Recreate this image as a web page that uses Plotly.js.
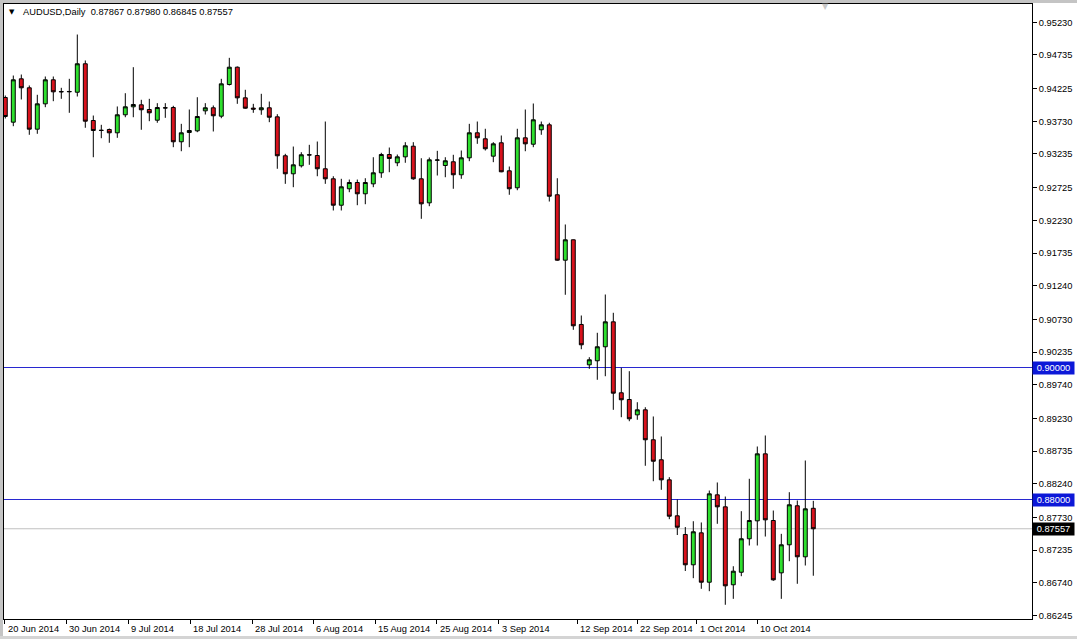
<!DOCTYPE html>
<html><head><meta charset="utf-8">
<script src="https://cdn.plot.ly/plotly-3.0.1.min.js"></script>
<style>html,body{margin:0;padding:0;background:#fff;}#chart{width:1077px;height:639px;}</style>
</head><body><div id="chart"></div>
<script>
const symbolText = 'AUDUSD,Daily';
const open = [0.94091,0.93717,0.94374,0.94238,0.93611,0.93995,0.94359,0.94182,0.94177,0.94171,
0.94602,0.93742,0.93595,0.93606,0.93556,0.93829,0.93950,0.93980,0.93909,0.93747,
0.93935,0.93939,0.93420,0.93561,0.93586,0.93889,0.93935,0.93808,0.94288,0.94550,
0.94086,0.93930,0.93905,0.93935,0.93798,0.93208,0.92935,0.93056,0.93223,0.93212,
0.93011,0.92859,0.92459,0.92708,0.92803,0.92632,0.92783,0.92950,0.93227,0.93102,
0.93192,0.93353,0.92859,0.92495,0.93141,0.93061,0.93117,0.92920,0.93177,0.93556,
0.93465,0.93202,0.93405,0.92980,0.92723,0.93480,0.93383,0.93602,0.93677,0.92617,
0.91626,0.91935,0.90652,0.90041,0.90102,0.90314,0.90692,0.89617,0.89515,0.89283,
0.89359,0.88905,0.88602,0.88298,0.87753,0.87470,0.87011,0.87495,0.86747,0.88071,
0.87889,0.86708,0.86898,0.87405,0.87677,0.88692,0.87682,0.86889,0.87314,0.87905,
0.87132,0.87867];
const high = [0.94121,0.94424,0.94439,0.94273,0.94132,0.94409,0.94409,0.94238,0.94374,0.95045,
0.94652,0.93818,0.93677,0.93621,0.93955,0.94156,0.94550,0.94056,0.94071,0.94005,
0.94005,0.93965,0.93692,0.93909,0.94095,0.94005,0.93970,0.94374,0.94692,0.94561,
0.94208,0.93995,0.94147,0.94030,0.93838,0.93238,0.93348,0.93262,0.93374,0.93424,
0.93727,0.92898,0.92859,0.92848,0.92848,0.92868,0.93186,0.93253,0.93333,0.93227,
0.93414,0.93414,0.93171,0.93182,0.93283,0.93186,0.93223,0.93288,0.93692,0.93727,
0.93617,0.93414,0.93515,0.93045,0.93617,0.93909,0.94000,0.93727,0.93708,0.92868,
0.92167,0.91939,0.90788,0.90156,0.90526,0.91106,0.90829,0.89995,0.89944,0.89474,
0.89398,0.89258,0.88955,0.88338,0.88000,0.87583,0.87671,0.87652,0.88136,0.88258,
0.88045,0.86989,0.87823,0.88314,0.88803,0.88970,0.87833,0.87480,0.88111,0.87985,
0.88591,0.87980];
const low = [0.93773,0.93656,0.94061,0.93526,0.93541,0.93944,0.94035,0.94071,0.93859,0.94106,
0.93632,0.93186,0.93474,0.93405,0.93480,0.93792,0.93792,0.93602,0.93732,0.93708,
0.93783,0.93338,0.93277,0.93338,0.93565,0.93833,0.93576,0.93777,0.94273,0.93995,
0.93920,0.93859,0.93829,0.93717,0.93011,0.92783,0.92732,0.93030,0.93071,0.92898,
0.92783,0.92379,0.92379,0.92656,0.92459,0.92474,0.92732,0.92874,0.92959,0.93050,
0.93102,0.92844,0.92253,0.92444,0.92909,0.92883,0.92708,0.92859,0.93126,0.93389,
0.93288,0.93111,0.92959,0.92617,0.92686,0.93277,0.93338,0.93526,0.92515,0.91617,
0.91102,0.90571,0.90277,0.89980,0.89814,0.89868,0.89359,0.89247,0.89186,0.89208,
0.88511,0.88277,0.88147,0.87702,0.87462,0.86917,0.86808,0.86647,0.86611,0.87632,
0.86405,0.86495,0.86838,0.87303,0.87303,0.87439,0.86768,0.86495,0.87065,0.86723,
0.87000,0.86845];
const close = [0.93803,0.94359,0.94238,0.93611,0.93995,0.94359,0.94177,0.94177,0.94182,0.94602,
0.93732,0.93591,0.93592,0.93556,0.93829,0.93950,0.93985,0.93905,0.93859,0.93939,
0.93933,0.93420,0.93556,0.93591,0.93803,0.93935,0.93814,0.94298,0.94550,0.94086,
0.93929,0.93915,0.93935,0.93792,0.93208,0.92935,0.93071,0.93223,0.93220,0.93011,
0.92859,0.92459,0.92738,0.92803,0.92632,0.92803,0.92950,0.93227,0.93167,0.93192,
0.93359,0.92859,0.92480,0.93147,0.93144,0.93132,0.92920,0.93177,0.93556,0.93480,
0.93314,0.93389,0.92965,0.92708,0.93480,0.93389,0.93753,0.93677,0.92595,0.91626,
0.91935,0.90632,0.90344,0.90117,0.90314,0.90692,0.89611,0.89511,0.89223,0.89359,
0.88905,0.88580,0.88298,0.87747,0.87580,0.87011,0.87511,0.86747,0.88086,0.87889,
0.86692,0.86914,0.87405,0.87682,0.88692,0.87692,0.86783,0.87314,0.87920,0.87132,
0.87859,0.87557];
const tickLabels = ['20 Jun 2014','30 Jun 2014','9 Jul 2014','18 Jul 2014','28 Jul 2014','6 Aug 2014',
  '15 Aug 2014','25 Aug 2014','3 Sep 2014','12 Sep 2014','22 Sep 2014','1 Oct 2014','10 Oct 2014'];
const tickBars = [-0.07,7.62,15.37,23.09,30.84,38.5,46.25,53.96,61.71,71.5,79,86.42,94];
const priceTicks = [0.95230,0.94735,0.94225,0.93730,0.93235,0.92725,0.92230,0.91735,0.91240,0.90730,
  0.90235,0.89740,0.89230,0.88735,0.88240,0.87730,0.87235,0.86740,0.86245];
const levels = [0.90000, 0.88000];

const bars = open.map((_, i) => i);
const last = close.length - 1;
const lastPrice = close[last];

// geometry (pixels)
const W = 1077, H = 639, L = 4, R = 45, T = 4, B = 20;
const plotW = W - L - R, plotH = H - T - B;
const barPx = 8, firstBarPx = 5.3;
const xMin = -(firstBarPx - L) / barPx;
const xMax = xMin + plotW / barPx;
const px2x = px => (px - L) / plotW;
const px2y = py => (H - B - py) / plotH;

const FONT = 'Liberation Sans, Arial, sans-serif';
const fmt = v => v.toFixed(5);
const NB = '\u00a0';

const annotations = [
  {xref:'paper', yref:'paper', x:px2x(21), y:px2y(12.5), xanchor:'left', yanchor:'middle', showarrow:false,
   text: symbolText + NB + NB + [open[last], high[last], low[last], close[last]].map(fmt).join(NB),
   font:{family:FONT, size:9.3, color:'#000'}},
  {xref:'paper', yref:'paper', x:px2x(11.5), y:px2y(12.5), xanchor:'center', yanchor:'middle', showarrow:false,
   text:'▼', font:{family:'DejaVu Sans', size:7, color:'#000'}},
  {xref:'paper', yref:'paper', x:px2x(825), y:px2y(6), xanchor:'center', yanchor:'middle', showarrow:false,
   text:'▼', font:{family:'DejaVu Sans', size:8, color:'#c8c8c8'}}
];
// date labels, left-aligned just right of each tick mark
tickBars.forEach((b, i) => annotations.push({
  xref:'x', yref:'paper', x:b, y:px2y(628.7), xanchor:'left', yanchor:'middle', xshift:1, showarrow:false,
  text: tickLabels[i], font:{family:FONT, size:9.3, color:'#000'}
}));
levels.forEach(v => annotations.push({
  xref:'paper', yref:'y', x:1, y:v, xanchor:'left', yanchor:'middle', xshift:0, showarrow:false,
  text: fmt(v), bgcolor:'#0c18d8', borderpad:1, width:39, height:10,
  font:{family:FONT, size:9.3, color:'#fff'}
}));
annotations.push({
  xref:'paper', yref:'y', x:1, y:lastPrice, xanchor:'left', yanchor:'middle', xshift:0, showarrow:false,
  text: fmt(lastPrice), bgcolor:'#000', borderpad:1, width:39, height:10,
  font:{family:FONT, size:9.3, color:'#fff'}
});

const shapes = [];
levels.forEach(v => shapes.push({type:'line', xref:'paper', yref:'y', x0:0, x1:1, y0:v, y1:v,
  line:{color:'#2828d0', width:1}, layer:'below'}));
shapes.push({type:'line', xref:'paper', yref:'y', x0:0, x1:1, y0:lastPrice, y1:lastPrice,
  line:{color:'#c0c0c0', width:1}, layer:'below'});
// window border
shapes.push({type:'rect', xref:'paper', yref:'paper', x0:px2x(0), x1:px2x(3), y0:px2y(639), y1:px2y(0),
  fillcolor:'#c4c4c4', line:{width:0}, layer:'below'});
shapes.push({type:'rect', xref:'paper', yref:'paper', x0:px2x(0), x1:px2x(1077), y0:px2y(3), y1:px2y(0),
  fillcolor:'#c4c4c4', line:{width:0}, layer:'below'});
shapes.push({type:'rect', xref:'paper', yref:'paper', x0:px2x(0), x1:px2x(1077), y0:px2y(639), y1:px2y(636),
  fillcolor:'#d4d4d4', line:{width:0}, layer:'below'});

const trace = {
  type:'candlestick', x:bars, open:open, high:high, low:low, close:close,
  increasing:{line:{color:'#000', width:1}, fillcolor:'#2ee02e'},
  decreasing:{line:{color:'#000', width:1}, fillcolor:'#d8121c'},
  whiskerwidth:0, hoverinfo:'skip', showlegend:false
};

const layout = {
  width:W, height:H,
  margin:{l:L, r:R, t:T, b:B, pad:0},
  paper_bgcolor:'#fff', plot_bgcolor:'#fff',
  showlegend:false, hovermode:false,
  font:{family:FONT, size:9.3, color:'#000'},
  xaxis:{range:[xMin, xMax], rangeslider:{visible:false}, showgrid:false, zeroline:false,
    showline:true, mirror:true, linecolor:'#000', linewidth:1,
    ticks:'outside', ticklen:4, tickcolor:'#000', tickwidth:1,
    tickmode:'array', tickvals:tickBars, ticktext:tickLabels.map(() => ''),
    showticklabels:true},
  yaxis:{side:'right', range:[0.861896, 0.955076], showgrid:false, zeroline:false,
    showline:true, mirror:true, linecolor:'#000', linewidth:1,
    ticks:'outside', ticklen:4, tickcolor:'#000', tickwidth:1,
    tickmode:'array', tickvals:priceTicks, tickformat:'.5f',
    tickfont:{family:FONT, size:9.3, color:'#000'}},
  shapes:shapes, annotations:annotations
};

Plotly.newPlot('chart', [trace], layout, {staticPlot:true, displayModeBar:false});
</script></body></html>
